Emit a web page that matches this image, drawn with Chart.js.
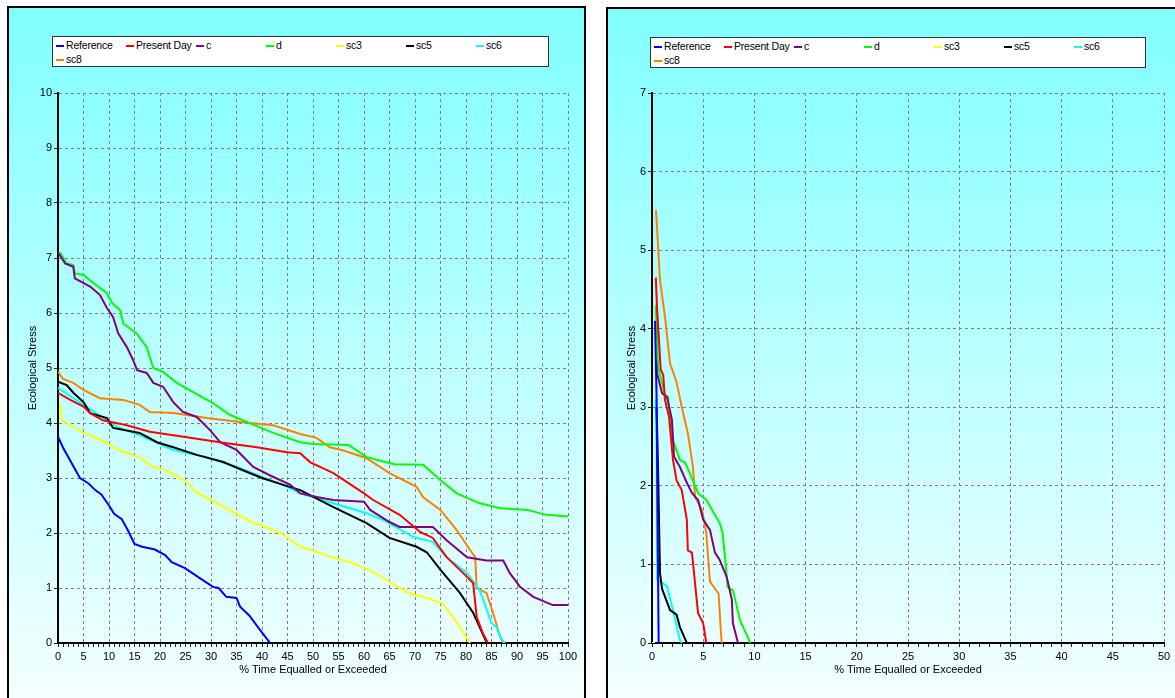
<!DOCTYPE html>
<html>
<head>
<meta charset="utf-8">
<script src="https://cdn.jsdelivr.net/npm/chart.js@4/dist/chart.umd.min.js"></script>
<style>
  body { margin: 0; width: 1175px; height: 698px; overflow: hidden; background: #fff; }
  .panel {
    position: absolute; width: 579px; height: 720px; box-sizing: border-box;
    border: 2px solid #000;
    background: linear-gradient(to bottom, #80ffff 0px, #f4ffff 690px);
  }
  .panel canvas { position: absolute; left: 0; top: 0; }
  .legend {
    position: absolute; box-sizing: border-box; height: 31px;
    background: #fff; border: 1px solid #333;
  }
  .legend .item {
    position: absolute; white-space: nowrap; color: #000;
    font: 10.5px "Liberation Sans", Arial, sans-serif; line-height: 14px;
    letter-spacing: -0.2px;
  }
  .legend .mark { display: inline-block; width: 8px; height: 2px; margin-right: 2px; vertical-align: middle; }
</style>
</head>
<body>
<div class="panel" style="left:7px; top:6px;">
  <canvas id="chartLeft" width="575" height="690"></canvas>
  <div class="legend" id="legendLeft" style="left:43px; top:28px; width:497px;"></div>
</div>
<div class="panel" style="left:606px; top:7px;">
  <canvas id="chartRight" width="575" height="689"></canvas>
  <div class="legend" id="legendRight" style="left:42px; top:28px; width:496px;"></div>
</div>
<script>
(() => {
  'use strict'

  const seriesNames = ['Reference', 'Present Day', 'c', 'd', 'sc3', 'sc5', 'sc6', 'sc8'];
  const seriesColors = ['#0000ff', '#ff0000', '#800080', '#00ff00', '#ffff00', '#000000', '#00ffff', '#ff8000'];

  // left chart: [% time, stress]
  const leftReference = [[0, 3.75], [1, 3.55], [2.5, 3.3], [4.3, 3.0], [6, 2.9], [7.3, 2.78], [8.5, 2.7], [10, 2.5], [11, 2.35], [12.5, 2.25], [13.7, 2.05], [15, 1.8], [16.5, 1.75], [19, 1.7], [21, 1.6], [22.3, 1.47], [24.9, 1.36], [27.8, 1.18], [30.4, 1.02], [31.5, 1.0], [33, 0.84], [35, 0.82], [35.7, 0.66], [37.5, 0.5], [39.6, 0.24], [41.6, 0]];
  const leftPresentDay = [[0, 4.55], [2.4, 4.42], [5, 4.3], [6.3, 4.18], [8.8, 4.05], [13.5, 3.96], [18, 3.84], [25.9, 3.73], [32.4, 3.64], [39, 3.56], [44.9, 3.47], [47.5, 3.45], [49.4, 3.29], [54, 3.09], [60, 2.72], [61.8, 2.6], [67, 2.33], [71, 2.02], [73.5, 1.91], [76.2, 1.56], [78.8, 1.33], [81.4, 1.09], [82.1, 0.47], [83.3, 0.18], [84.3, 0]];
  const leftC = [[0, 7.1], [1.4, 6.9], [3, 6.84], [3.3, 6.63], [6.3, 6.48], [8.2, 6.33], [9.6, 6.09], [10.8, 5.93], [11.8, 5.63], [13.5, 5.38], [14.7, 5.15], [15.5, 4.96], [17.4, 4.91], [18.7, 4.73], [20.6, 4.66], [22.6, 4.38], [24.5, 4.2], [27.2, 4.11], [29.8, 3.87], [31.8, 3.65], [35, 3.51], [38.3, 3.2], [41.5, 3.05], [45.5, 2.88], [47.5, 2.72], [51, 2.65], [54, 2.6], [60, 2.57], [61.2, 2.42], [65, 2.2], [67, 2.11], [73.5, 2.11], [76.2, 1.87], [80.2, 1.56], [84, 1.5], [87.3, 1.5], [88.6, 1.27], [90.6, 1.02], [93.2, 0.84], [97, 0.69], [100, 0.69]];
  const leftD = [[0, 7.1], [0.5, 7.08], [1.7, 6.9], [3, 6.87], [3.3, 6.72], [5, 6.69], [7, 6.54], [9.6, 6.36], [10.6, 6.18], [12.2, 6.05], [12.8, 5.81], [15.4, 5.63], [17.4, 5.38], [18.7, 5.0], [20.6, 4.93], [23.3, 4.73], [26.5, 4.56], [30.4, 4.36], [33.7, 4.15], [37, 4.02], [42.2, 3.82], [47.5, 3.65], [50, 3.62], [57, 3.6], [60.5, 3.38], [63.8, 3.3], [66, 3.25], [71.6, 3.24], [75, 2.96], [78.2, 2.72], [82.7, 2.54], [86.7, 2.45], [92, 2.42], [95.8, 2.33], [100, 2.3]];
  const leftSc3 = [[0.4, 4.35], [0.7, 4.05], [3, 3.93], [5, 3.82], [7, 3.75], [9.6, 3.64], [12, 3.5], [16, 3.38], [18.6, 3.2], [21, 3.15], [23, 3.05], [25, 2.95], [27, 2.75], [29, 2.65], [31, 2.55], [33, 2.45], [35, 2.35], [38, 2.2], [41, 2.1], [44, 1.98], [47.5, 1.75], [51, 1.65], [54, 1.55], [57.3, 1.47], [61, 1.33], [64.4, 1.15], [67, 1.0], [69, 0.9], [71.6, 0.84], [75.3, 0.72], [77.5, 0.47], [78.8, 0.29], [80.8, 0]];
  const leftSc5 = [[0, 4.75], [1.7, 4.69], [3, 4.55], [5, 4.38], [6.3, 4.18], [9.6, 4.09], [10.8, 3.91], [16, 3.82], [19.4, 3.65], [22.6, 3.56], [27.2, 3.42], [32.4, 3.29], [36, 3.15], [40, 3.0], [44, 2.88], [47.5, 2.78], [54, 2.47], [60.5, 2.18], [65, 1.91], [70.3, 1.75], [72.3, 1.65], [75, 1.33], [78.8, 0.91], [81.4, 0.55], [84.1, 0]];
  const leftSc6 = [[0, 4.64], [1.4, 4.55], [5, 4.33], [9.6, 4.05], [11.6, 3.93], [16, 3.78], [22.6, 3.51], [29.2, 3.38], [35.7, 3.18], [40, 3.02], [44, 2.88], [47.5, 2.72], [54, 2.54], [60.5, 2.36], [63.8, 2.24], [69.6, 1.93], [73.5, 1.84], [76.2, 1.56], [80.2, 1.27], [82.7, 0.96], [85, 0.36], [86, 0.29], [86.7, 0.11], [87.6, 0]];
  const leftSc8 = [[0, 4.93], [1, 4.8], [3, 4.73], [5, 4.6], [8.2, 4.45], [12.8, 4.42], [16, 4.33], [18, 4.2], [22.6, 4.18], [29.2, 4.09], [35.7, 4.02], [42.2, 3.96], [47.5, 3.8], [50.7, 3.73], [53.3, 3.56], [56, 3.5], [60.5, 3.36], [65, 3.09], [70.3, 2.84], [71.6, 2.65], [75, 2.42], [78.2, 2.05], [80.8, 1.69], [81.8, 1.56], [82.1, 1.0], [84, 0.91], [85.3, 0.55], [86.7, 0.11], [87.3, 0]];

  // right chart
  const rightReference = [[0.3, 4.1], [0.45, 3.1], [0.55, 1.5], [0.65, 0]];
  const rightPresentDay = [[0.37, 4.65], [0.5, 4.24], [0.68, 3.86], [0.85, 3.48], [1.1, 3.41], [1.27, 3.09], [1.66, 2.88], [2.05, 2.33], [2.4, 2.07], [2.9, 1.95], [3.4, 1.57], [3.5, 1.18], [3.9, 1.15], [4.5, 0.38], [5.0, 0.25], [5.3, 0]];
  const rightC = [[0.4, 3.6], [0.5, 3.43], [0.98, 3.18], [1.46, 3.13], [1.95, 2.84], [2.15, 2.37], [2.73, 2.24], [3.4, 2.04], [3.9, 1.91], [4.5, 1.82], [5.0, 1.57], [5.66, 1.44], [6.15, 1.15], [6.6, 1.06], [7.3, 0.84], [7.8, 0.55], [7.9, 0.25], [8.4, 0]];
  const rightD = [[0.37, 4.3], [0.6, 3.51], [1.27, 3.16], [1.56, 3.13], [2.05, 2.58], [2.73, 2.33], [3.2, 2.3], [3.7, 2.16], [4.5, 1.91], [5.3, 1.82], [6.6, 1.53], [6.9, 1.4], [7.4, 0.71], [7.9, 0.67], [8.6, 0.29], [9.6, 0]];
  const rightSc3 = [[0, 0], [0.3, 0]];
  const rightSc5 = [[0.45, 3.0], [0.6, 2.16], [0.78, 0.89], [0.98, 0.69], [1.76, 0.42], [2.4, 0.36], [2.73, 0.2], [3.4, 0]];
  const rightSc6 = [[0.35, 3.1], [0.45, 2.58], [0.5, 0.8], [1.07, 0.76], [1.46, 0.72], [2.05, 0.42], [2.73, 0.04], [2.9, 0]];
  const rightSc8 = [[0.39, 5.51], [0.78, 4.62], [1.27, 4.15], [1.76, 3.56], [2.4, 3.32], [2.93, 2.99], [3.5, 2.67], [4.0, 2.24], [4.2, 1.86], [4.9, 1.69], [5.3, 1.4], [5.5, 1.06], [5.66, 0.78], [6.5, 0.63], [6.8, 0]];

  const leftXMax = 100, leftYMax = 10;
  const rightXMax = 50, rightYMax = 7;
  const xLabelEvery = 5;

  const font = {family: '"Liberation Sans", Arial, sans-serif', size: 11};
  const gridGray = '#808080';

  function makeChart(canvasId, series, xMax, yMax, pad, yWidth) {
    const datasets = series.map((pts, i) => ({
      label: seriesNames[i],
      data: pts.map(p => ({x: p[0], y: p[1]})),
      borderColor: seriesColors[i],
      backgroundColor: seriesColors[i],
      borderWidth: 2,
      pointRadius: 0,
      tension: 0,
      fill: false
    }));

    return new Chart(document.getElementById(canvasId), {
      type: 'line',
      data: {datasets},
      options: {
        responsive: false,
        animation: false,
        devicePixelRatio: 1,
        layout: {padding: pad},
        plugins: {legend: {display: false}, tooltip: {enabled: false}},
        scales: {
          x: {
            type: 'linear', min: 0, max: xMax,
            grid: {
              color: c => (!c.tick || c.tick.value % xLabelEvery === 0) ? gridGray : 'rgba(0,0,0,0)',
              lineWidth: 1, tickWidth: 1, tickColor: '#222', tickLength: 4, tickBorderDash: []
            },
            border: {color: '#000', width: 2, dash: [3, 3]},
            ticks: {
              stepSize: 1, autoSkip: false, maxRotation: 0, padding: 3, color: '#000', font,
              callback: v => v % xLabelEvery === 0 ? String(v) : ''
            },
            title: {display: true, text: '% Time Equalled or Exceeded', color: '#000', font, padding: 0},
            afterFit: s => { s.height = 34; }
          },
          y: {
            min: 0, max: yMax,
            grid: {color: gridGray, lineWidth: 1, tickWidth: 1, tickColor: '#222', tickLength: 4, tickBorderDash: []},
            border: {color: '#000', width: 2, dash: [3, 3]},
            ticks: {stepSize: 1, padding: 2, color: '#000', font},
            title: {display: true, text: 'Ecological Stress', color: '#000', font, padding: {top: 7, bottom: 0}},
            afterFit: s => { s.width = yWidth; }
          }
        }
      }
    });
  }

  function buildLegend(id, chart) {
    const box = document.getElementById(id);
    chart.data.datasets.forEach((ds, i) => {
      const item = document.createElement('div');
      item.className = 'item';
      item.style.left = (3 + 70 * (i % 7)) + 'px';
      item.style.top = (1 + 14 * Math.floor(i / 7)) + 'px';
      const mark = document.createElement('span');
      mark.className = 'mark';
      mark.style.background = ds.borderColor;
      item.appendChild(mark);
      item.appendChild(document.createTextNode(ds.label));
      box.appendChild(item);
    });
  }

  const leftChart = makeChart('chartLeft',
    [leftReference, leftPresentDay, leftC, leftD, leftSc3, leftSc5, leftSc6, leftSc8],
    leftXMax, leftYMax, {top: 85, left: 10, right: 16, bottom: 21}, 39);
  const rightChart = makeChart('chartRight',
    [rightReference, rightPresentDay, rightC, rightD, rightSc3, rightSc5, rightSc6, rightSc8],
    rightXMax, rightYMax, {top: 84, left: 10, right: 19, bottom: 21}, 34);

  buildLegend('legendLeft', leftChart);
  buildLegend('legendRight', rightChart);
})()
</script>
</body>
</html>
